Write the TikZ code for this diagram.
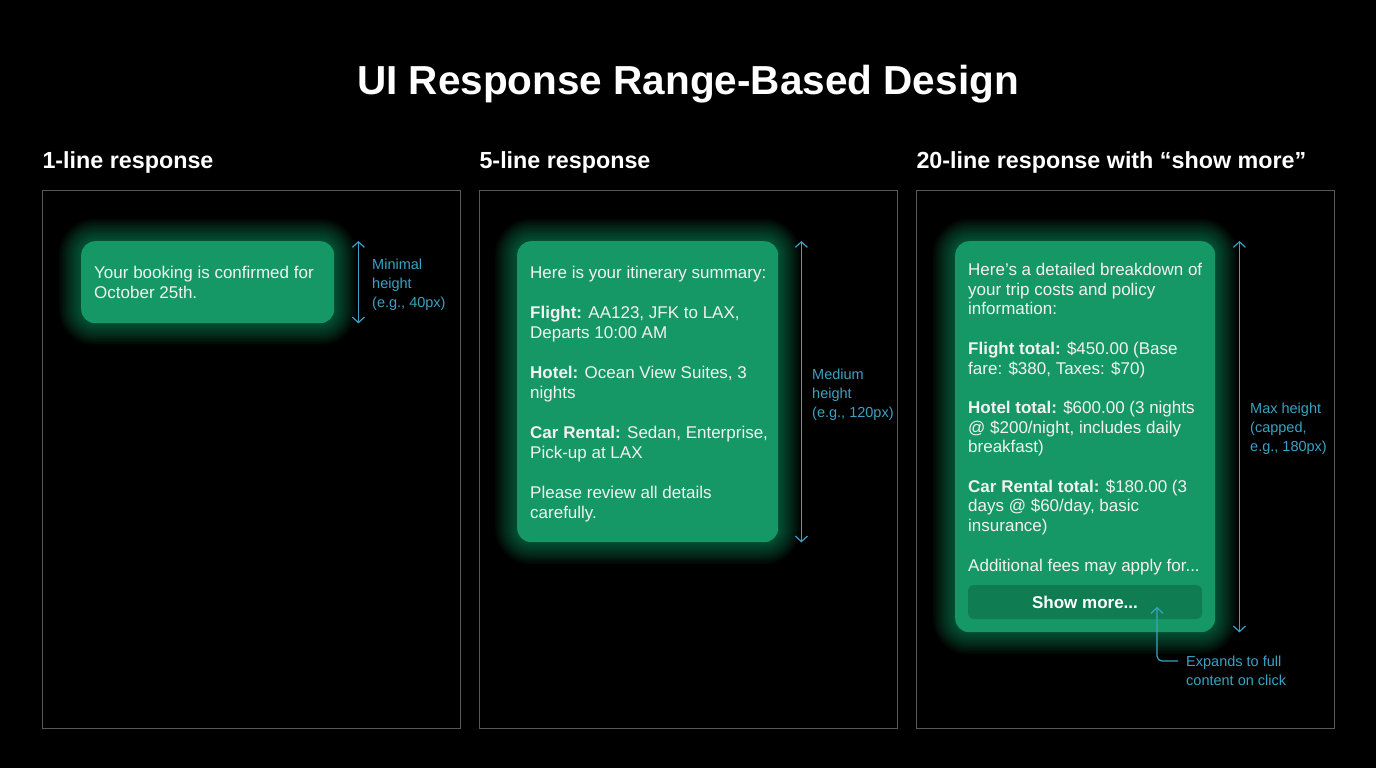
\documentclass[tikz,border=0pt]{standalone}
\usepackage{fontspec}
\setmainfont{Liberation Sans}
\usetikzlibrary{calc,positioning,arrows.meta}
\definecolor{bubblegreen}{HTML}{169866}
\definecolor{buttongreen}{HTML}{0F7C52}
\definecolor{glowgreen}{HTML}{22E29A}
\definecolor{dimblue}{HTML}{3BA2C4}
\definecolor{panelgrey}{HTML}{585858}
\def\glow(#1,#2)(#3,#4){\foreach \g in {1,...,14}{\fill[glowgreen, opacity=0.03, rounded corners={(14+\g*1.6)*1pt}] (#1-\g*1.6,#2-\g*1.6) rectangle (#3+\g*1.6,#4+\g*1.6);}}

\begin{document}
\begin{tikzpicture}[x=1pt, y=-1pt,
	bubble/.style={fill=bubblegreen, rounded corners=14pt, inner sep=0pt},
	bubbletext/.style={anchor=north west, align=left, inner sep=0pt, text=white!95!black},
	heading/.style={anchor=base west, text=white, font=\bfseries\fontsize{23.3}{27}\selectfont},
	panel/.style={draw=panelgrey, line width=1pt, anchor=north west, minimum width=418pt, minimum height=538pt, inner sep=0pt},
	dim/.style={draw=dimblue, line width=1.2pt, {Straight Barb[length=5.5pt,width=12pt]}-{Straight Barb[length=5.5pt,width=12pt]}},
	dimtext/.style={anchor=north west, align=left, inner sep=0pt, text=dimblue, font=\fontsize{14.5}{19}\selectfont}]
	%%%%% START %%%%%
	
	\fill[black] (0,0) rectangle (1376,768);
	\useasboundingbox (0,0) rectangle (1376,768);
	
	\node[anchor=base, text=white, font=\bfseries\fontsize{40.5}{44}\selectfont] (title) at (688,94) {UI Response Range-Based Design};
	
	% panels
	\node[panel] (pone) at (42,190) {};
	\node[panel] (ptwo) at (479,190) {};
	\node[panel] (pthree) at (916,190) {};
	\node[heading] (hone) at (39,168) {1-line response};
	\node[heading] (htwo) at (476,168) {5-line response};
	\node[heading] (hthree) at (913,168) {20-line response with “show more”};
	
	% 1-line
	\glow(81,241)(334,323)
	\node[bubble, minimum width=253pt, minimum height=82pt, below right=51pt and 39pt of pone.north west] (one) {};
	\node[bubbletext, font=\fontsize{17}{20}\selectfont] (onetext) at (94,266) {Your booking is confirmed for\\October 25th.};
	\draw[dim] ($(one.north east)+(24,0)$) -- ($(one.south east)+(24,0)$);
	\node[dimtext] (onelabel) at (372,259) {Minimal\\height\\(e.g., 40px)};
	
	% 5-line
	\glow(517,241)(778,542)
	\node[bubble, minimum width=261pt, minimum height=301pt, below right=51pt and 38pt of ptwo.north west] (two) {};
	\node[bubbletext, font=\fontsize{17}{20}\selectfont] (twotext) at (530,266) {Here is your itinerary summary:\\[20pt]
		\textbf{Flight:} AA123, JFK to LAX,\\Departs 10:00 AM\\[20pt]
		\textbf{Hotel:} Ocean View Suites, 3\\nights\\[20pt]
		\textbf{Car Rental:} Sedan, Enterprise,\\Pick-up at LAX\\[20pt]
		Please review all details\\carefully.};
	\draw[dim] ($(two.north east)+(23,0)$) -- ($(two.south east)+(23,0)$);
	\node[dimtext] (twolabel) at (812,369) {Medium\\height\\(e.g., 120px)};
	
	% 20-line
	\glow(955,241)(1215,632)
	\node[bubble, minimum width=260pt, minimum height=391pt, below right=51pt and 39pt of pthree.north west] (three) {};
	\node[bubbletext, font=\fontsize{17}{19.7}\selectfont] (threetext) at (968,263) {Here’s a detailed breakdown of\\your trip costs and policy\\information:\\[19.7pt]
		\textbf{Flight total:} \$450.00 (Base\\fare: \$380, Taxes: \$70)\\[19.7pt]
		\textbf{Hotel total:} \$600.00 (3 nights\\@ \$200/night, includes daily\\breakfast)\\[19.7pt]
		\textbf{Car Rental total:} \$180.00 (3\\days @ \$60/day, basic\\insurance)\\[19.7pt]
		Additional fees may apply for...};
	\node[fill=buttongreen, rounded corners=6pt, minimum width=234pt, minimum height=34pt, inner sep=0pt, text=white, font=\bfseries\fontsize{17}{20}\selectfont] (more) at (1085,602) {Show more...};
	\draw[dim] ($(three.north east)+(24,0)$) -- ($(three.south east)+(24,0)$);
	\node[dimtext] (threelabel) at (1250,403) {Max height\\(capped,\\e.g., 180px)};
	
	\coordinate (moretip) at (1157,607);
	\node[dimtext] (expands) at (1186,656) {Expands to full\\content on click};
	\draw[draw=dimblue, line width=1.2pt, -{Straight Barb[length=5.5pt,width=12pt]}, rounded corners=5pt] ($(expands.north west)+(-8,5)$) -| (moretip);
	
	%%%%% END %%%%%
\end{tikzpicture}
\end{document}
